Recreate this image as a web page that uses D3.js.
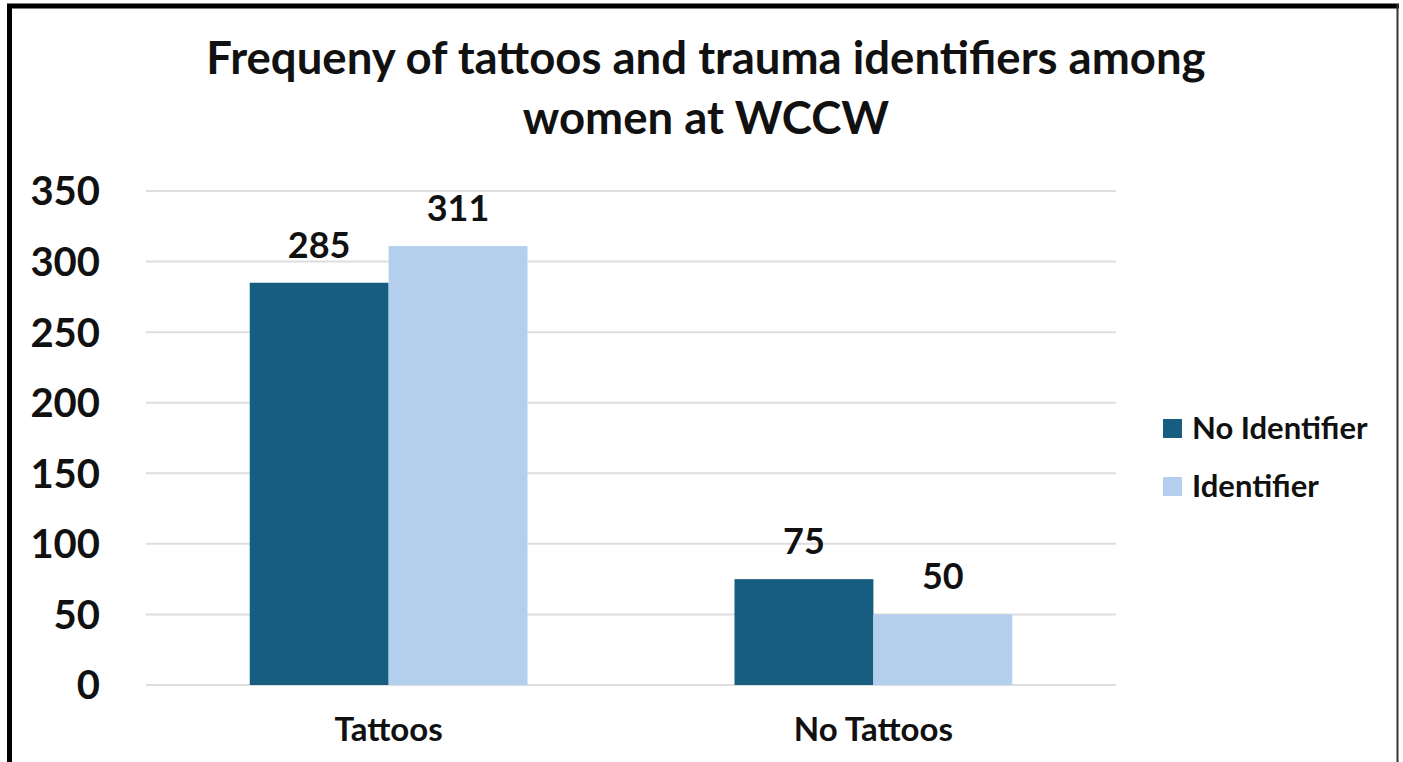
<!DOCTYPE html>
<html>
<head>
<meta charset="utf-8">
<script src="https://cdn.jsdelivr.net/npm/d3@7"></script>
<style>
  body { margin: 0; background: #fff; }
  svg { display: block; font-family: Lato, "Open Sans", sans-serif; }
</style>
</head>
<body>
<svg id="chart" width="1403" height="762"></svg>
<script>
const width = 1403;
const height = 762;

const categories = ["Tattoos", "No Tattoos"];
const seriesNames = ["No Identifier", "Identifier"];
const noIdentifier = [285, 75];
const identifier = [311, 50];
const yTicks = [0, 50, 100, 150, 200, 250, 300, 350];

const colors = ["#175d7f", "#b4cfee"];

const svg = d3.select("#chart");

// frame round the picture
svg.append("line").attr("x1", 9.5).attr("x2", 9.5).attr("y1", 4).attr("y2", height)
    .attr("stroke", "#000").attr("stroke-width", 5);
svg.append("line").attr("x1", 7).attr("x2", 1399).attr("y1", 6).attr("y2", 6)
    .attr("stroke", "#000").attr("stroke-width", 5);
svg.append("line").attr("x1", 1397.5).attr("x2", 1397.5).attr("y1", 4).attr("y2", height)
    .attr("stroke", "#333").attr("stroke-width", 2);

const title = svg.append("text")
    .attr("text-anchor", "middle")
    .attr("font-weight", "bold")
    .attr("font-size", 45.5)
    .attr("fill", "#111");
title.append("tspan").attr("x", 706).attr("y", 74).text("Frequeny of tattoos and trauma identifiers among");
title.append("tspan").attr("x", 706).attr("y", 134).text("women at WCCW");

const x0 = d3.scaleBand()
    .domain(categories)
    .range([146, 1116])
    .paddingInner(0.427)
    .paddingOuter(0.214);

const x1 = d3.scaleBand()
    .domain(seriesNames)
    .range([0, x0.bandwidth()]);

const y = d3.scaleLinear()
    .domain([0, 350])
    .range([685, 191]);

// grid lines
svg.append("g")
    .selectAll("line")
    .data(yTicks)
    .join("line")
    .attr("x1", 146)
    .attr("x2", 1116)
    .attr("y1", d => y(d))
    .attr("y2", d => y(d))
    .attr("stroke", "#dedede")
    .attr("stroke-width", 2);

// y tick labels
svg.append("g")
    .selectAll("text")
    .data(yTicks)
    .join("text")
    .attr("x", 100)
    .attr("y", d => y(d))
    .attr("dy", "0.36em")
    .attr("text-anchor", "end")
    .attr("font-weight", "bold")
    .attr("font-size", 40)
    .attr("fill", "#111")
    .text(d => d);

const rows = categories.map((c, i) => ({
    category: c,
    values: [noIdentifier[i], identifier[i]]
}));

const groups = svg.append("g")
    .selectAll("g")
    .data(rows)
    .join("g")
    .attr("transform", d => `translate(${x0(d.category)},0)`);

groups.selectAll("rect")
    .data(d => d.values.map((v, j) => ({ name: seriesNames[j], value: v, j })))
    .join("rect")
    .attr("x", d => x1(d.name))
    .attr("y", d => y(d.value))
    .attr("width", x1.bandwidth())
    .attr("height", d => y(0) - y(d.value))
    .attr("fill", d => colors[d.j]);

// value labels
groups.selectAll("text")
    .data(d => d.values.map((v, j) => ({ name: seriesNames[j], value: v })))
    .join("text")
    .attr("x", d => x1(d.name) + x1.bandwidth() / 2)
    .attr("y", d => y(d.value) - 25)
    .attr("text-anchor", "middle")
    .attr("font-weight", "bold")
    .attr("font-size", 36)
    .attr("fill", "#111")
    .text(d => d.value);

// category labels
svg.append("g")
    .selectAll("text")
    .data(categories)
    .join("text")
    .attr("x", d => x0(d) + x0.bandwidth() / 2)
    .attr("y", 741)
    .attr("text-anchor", "middle")
    .attr("font-weight", "bold")
    .attr("font-size", 33)
    .attr("fill", "#111")
    .text(d => d);

// legend
const legend = svg.append("g")
    .selectAll("g")
    .data(seriesNames)
    .join("g")
    .attr("transform", (d, i) => `translate(1163,${419 + i * 58})`);

legend.append("rect")
    .attr("width", 19)
    .attr("height", 19)
    .attr("fill", (d, i) => colors[i]);

legend.append("text")
    .attr("x", 29)
    .attr("y", 20)
    .attr("font-weight", "bold")
    .attr("font-size", 31)
    .attr("fill", "#111")
    .text(d => d);
</script>
</body>
</html>
